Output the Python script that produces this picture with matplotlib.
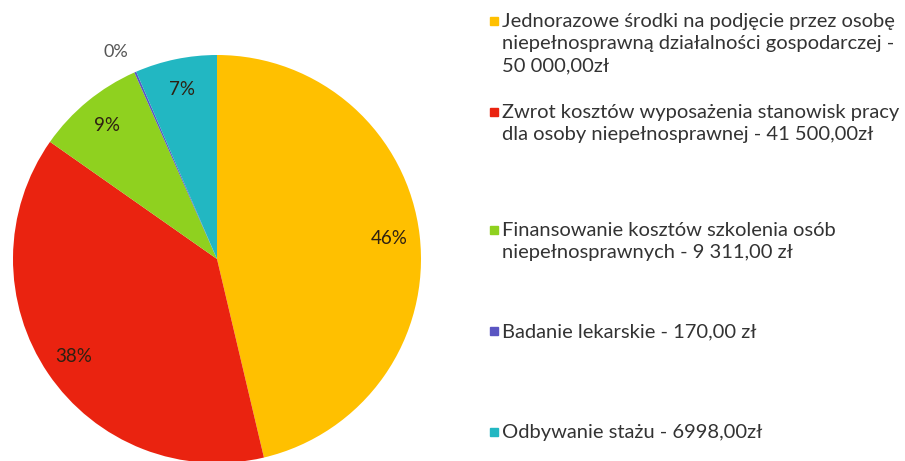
import matplotlib.pyplot as plt
from matplotlib.patches import Rectangle
import numpy as np

plt.rcParams['font.family'] = ['Lato', 'DejaVu Sans']

# data
categories = ['Jednorazowe środki na podjęcie przez osobę\nniepełnosprawną działalności gospodarczej -\n50 000,00zł',
              'Zwrot kosztów wyposażenia stanowisk pracy\ndla osoby niepełnosprawnej - 41 500,00zł',
              'Finansowanie kosztów szkolenia osób\nniepełnosprawnych - 9 311,00 zł',
              'Badanie lekarskie - 170,00 zł',
              'Odbywanie stażu - 6998,00zł']
values = [50000.00, 41500.00, 9311.00, 170.00, 6998.00]
colors = ['#FFC000', '#EA2310', '#8FD11F', '#5A55C2', '#22B7C2']
legend_y = [21, 112, 230, 331, 432]   # centre of first line of each legend entry (px)

# percentages rounded so they add to 100 (largest remainder)
raw = np.array(values) / sum(values) * 100
pct = np.floor(raw).astype(int)
left = 100 - pct.sum()
for i in np.argsort(-(raw - pct))[:left]:
    pct[i] += 1

W, H = 905, 461
fig = plt.figure(figsize=(W / 100, H / 100), dpi=100)

# pie axes: centre (217, 259) px, radius 204 px
cx, cy, r = 217, 259, 204
ax = fig.add_axes([(cx - r) / W, (H - cy - r) / H, 2 * r / W, 2 * r / H])
wedges, texts = ax.pie(values, colors=colors, startangle=90, counterclock=False,
                       wedgeprops=dict(edgecolor='none'))
ax.set_xlim(-1, 1)
ax.set_ylim(-1, 1)
ax.set_aspect('equal')

# percent labels
for w, p in zip(wedges, pct):
    ang = np.deg2rad((w.theta1 + w.theta2) / 2)
    if p < 1:
        ax.text(1.11 * np.cos(ang) - 0.05, 1.11 * np.sin(ang), '%d%%' % p, ha='center', va='center',
                fontsize=13, color='#555555', clip_on=False)
    else:
        ax.text(0.85 * np.cos(ang), 0.85 * np.sin(ang), '%d%%' % p, ha='center', va='center',
                fontsize=13.5, color='#2e2012')

# legend
for lab, col, y in zip(categories, colors, legend_y):
    fig.patches.append(Rectangle((490 / W, 1 - (y + 4) / H), 8 / W, 8 / H,
                                 transform=fig.transFigure, color=col))
    fig.text(502 / W, 1 - (y - 8) / H, lab, ha='left', va='top', fontsize=14.5,
             color='#333333', linespacing=1.38)

fig.savefig('out.png', dpi=100)
